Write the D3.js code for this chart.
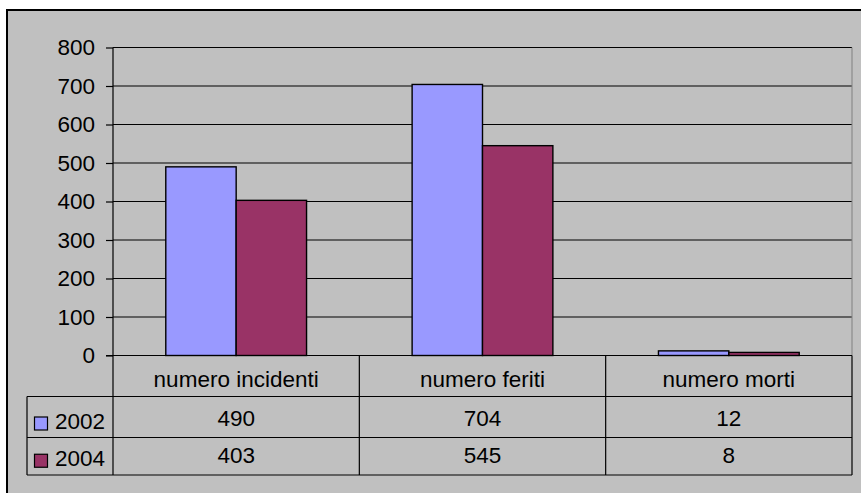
<!DOCTYPE html>
<html>
<head>
<meta charset="utf-8">
<script src="https://cdn.jsdelivr.net/npm/d3@7"></script>
<style>
  body { margin: 0; background: #fff; }
  text { font-family: "Liberation Sans", Arial, sans-serif; fill: #000; }
</style>
</head>
<body>
<div id="chart"></div>
<script>
// data
const categories = ["numero incidenti", "numero feriti", "numero morti"];
const seriesNames = ["2002", "2004"];
const values2002 = [490, 704, 12];
const values2004 = [403, 545, 8];
const yTicks = [0, 100, 200, 300, 400, 500, 600, 700, 800];
const seriesColors = ["#9999ff", "#993366"];

const seriesValues = [values2002, values2004];

const width = 861, height = 493;
const plot = { left: 113, right: 852, top: 47.5, bottom: 355.5 };
const tableRows = [355.5, 396.5, 437.5, 475];
const tableLeft = 27;
const fontSize = 22.5;

const svg = d3.select('#chart')
  .append('svg')
  .attr('width', width)
  .attr('height', height);

// chart area frame (extends past the window on right/bottom)
svg.append('rect')
  .attr('x', 7).attr('y', 10)
  .attr('width', 900).attr('height', 520)
  .attr('fill', '#c0c0c0')
  .attr('stroke', '#000')
  .attr('stroke-width', 2);

// scales
const x = d3.scaleBand()
  .domain(categories)
  .range([plot.left, plot.right])
  .padding(0);

// Excel gap width 150% -> bar = band / 3.5
const x1 = d3.scaleBand()
  .domain(seriesNames)
  .range([0, x.bandwidth()])
  .paddingInner(0)
  .paddingOuter(0.75);

const y = d3.scaleLinear()
  .domain([0, 800])
  .range([plot.bottom, plot.top]);

// gridlines
svg.append('g')
  .selectAll('line')
  .data(yTicks.filter(d => d > 0))
  .join('line')
    .attr('x1', plot.left).attr('x2', plot.right)
    .attr('y1', d => y(d)).attr('y2', d => y(d))
    .attr('stroke', '#000')
    .attr('stroke-width', 1.2);

// plot right border
svg.append('line')
  .attr('x1', plot.right).attr('x2', plot.right)
  .attr('y1', plot.top).attr('y2', plot.bottom)
  .attr('stroke', '#808080');

// bars
const groups = svg.append('g')
  .selectAll('g')
  .data(seriesNames)
  .join('g')
    .attr('fill', (d, i) => seriesColors[i]);

groups.selectAll('rect')
  .data((s, i) => categories.map((c, j) => ({ cat: c, series: s, value: seriesValues[i][j] })))
  .join('rect')
    .attr('x', d => x(d.cat) + x1(d.series))
    .attr('y', d => y(d.value))
    .attr('width', x1.bandwidth())
    .attr('height', d => y(0) - y(d.value))
    .attr('stroke', '#000')
    .attr('stroke-width', 1.4);

// y axis
const yAxis = d3.axisLeft(y)
  .tickValues(yTicks)
  .tickSize(7)
  .tickPadding(11);

const yg = svg.append('g')
  .attr('transform', `translate(${plot.left},0)`)
  .call(yAxis);
yg.select('.domain').remove();
yg.selectAll('.tick line').attr('stroke', '#000').attr('stroke-width', 1.2);
yg.selectAll('.tick text')
  .attr('font-size', fontSize)
  .attr('font-family', '"Liberation Sans", Arial, sans-serif');

// axis line continues down through the table
svg.append('line')
  .attr('x1', plot.left).attr('x2', plot.left)
  .attr('y1', plot.top).attr('y2', tableRows[3])
  .attr('stroke', '#000')
  .attr('stroke-width', 1.2);

// data table
const table = svg.append('g').attr('stroke', '#000').attr('stroke-width', 1.2);

// zero line / table top
table.append('line')
  .attr('x1', plot.left - 7).attr('x2', plot.right)
  .attr('y1', tableRows[0]).attr('y2', tableRows[0]);

table.selectAll('line.row')
  .data(tableRows.slice(1))
  .join('line')
    .attr('class', 'row')
    .attr('x1', tableLeft).attr('x2', plot.right)
    .attr('y1', d => d).attr('y2', d => d);

// left border of legend column
table.append('line')
  .attr('x1', tableLeft).attr('x2', tableLeft)
  .attr('y1', tableRows[1]).attr('y2', tableRows[3]);

// column dividers
table.selectAll('line.col')
  .data(categories.slice(1).concat(['end']))
  .join('line')
    .attr('class', 'col')
    .attr('x1', d => d === 'end' ? plot.right : x(d))
    .attr('x2', d => d === 'end' ? plot.right : x(d))
    .attr('y1', tableRows[0]).attr('y2', tableRows[3]);

// category labels
svg.append('g')
  .selectAll('text')
  .data(categories)
  .join('text')
    .attr('x', d => x(d) + x.bandwidth() / 2)
    .attr('y', (tableRows[0] + tableRows[1]) / 2 + 5)
    .attr('text-anchor', 'middle')
    .attr('dominant-baseline', 'middle')
    .attr('font-size', fontSize)
    .text(d => d);

// series rows
seriesNames.forEach((s, i) => {
  const cy = (tableRows[i + 1] + tableRows[i + 2]) / 2 + (i === 0 ? 2 : 0);
  svg.append('rect')
    .attr('x', 34.5).attr('y', cy - 2)
    .attr('width', 13).attr('height', 13)
    .attr('fill', seriesColors[i])
    .attr('stroke', '#000')
    .attr('stroke-width', 1.2);
  svg.append('text')
    .attr('x', 55)
    .attr('y', cy + 4)
    .attr('dominant-baseline', 'middle')
    .attr('font-size', fontSize)
    .text(s);
  svg.append('g')
    .selectAll('text')
    .data(categories.map((c, j) => ({ cat: c, value: seriesValues[i][j] })))
    .join('text')
      .attr('x', d => x(d.cat) + x.bandwidth() / 2)
      .attr('y', cy + 1)
      .attr('text-anchor', 'middle')
      .attr('dominant-baseline', 'middle')
      .attr('font-size', fontSize)
      .text(d => d.value);
});
</script>
</body>
</html>
